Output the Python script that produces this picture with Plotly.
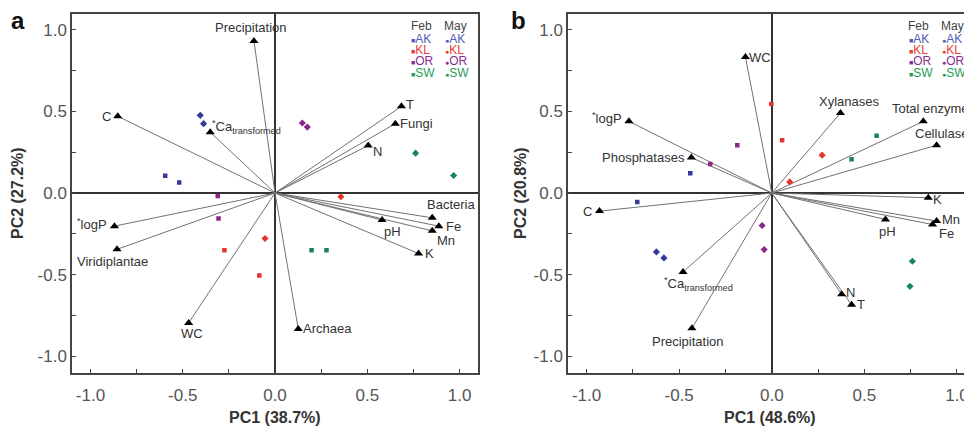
import plotly.graph_objects as go

# ---------------- data ----------------
# Panel a: loadings (vectors)
a_vars = ["Precipitation", "C", "<sup>*</sup>Ca<sub>transformed</sub>", "T", "Fungi", "N",
          "Bacteria", "Fe", "Mn", "pH", "K", "<sup>*</sup>logP", "Viridiplantae", "WC", "Archaea"]
a_vx = [-0.114, -0.852, -0.351, 0.685, 0.652, 0.505, 0.852, 0.888, 0.852, 0.580, 0.778, -0.870, -0.856, -0.468, 0.126]
a_vy = [0.931, 0.470, 0.373, 0.531, 0.425, 0.291, -0.152, -0.203, -0.232, -0.166, -0.371, -0.203, -0.345, -0.796, -0.833]

# Panel a: sample scores
a_sites = ["AK", "AK", "AK", "AK", "OR", "OR", "OR", "OR", "SW", "SW", "SW", "SW", "KL", "KL", "KL", "KL"]
a_month = ["May", "May", "Feb", "Feb", "May", "May", "Feb", "Feb", "May", "May", "Feb", "Feb", "May", "May", "Feb", "Feb"]
a_px = [-0.405, -0.387, -0.595, -0.519, 0.148, 0.175, -0.310, -0.306, 0.762, 0.968, 0.198, 0.279, 0.357, -0.054, -0.274, -0.085]
a_py = [0.476, 0.425, 0.105, 0.064, 0.429, 0.404, -0.018, -0.156, 0.244, 0.107, -0.351, -0.351, -0.023, -0.279, -0.351, -0.505]

# Panel b: loadings
b_vars = ["WC", "<sup>*</sup>logP", "Phosphatases", "Xylanases", "Total enzymes", "Cellulases",
          "K", "Mn", "Fe", "pH", "N", "T", "C", "<sup>*</sup>Ca<sub>transformed</sub>", "Precipitation"]
b_vx = [-0.142, -0.771, -0.434, 0.371, 0.818, 0.890, 0.845, 0.890, 0.868, 0.614, 0.377, 0.431, -0.930, -0.479, -0.431]
b_vy = [0.833, 0.439, 0.217, 0.490, 0.439, 0.293, -0.029, -0.172, -0.193, -0.162, -0.620, -0.685, -0.111, -0.484, -0.829]

# Panel b: sample scores
b_sites = ["KL", "KL", "KL", "KL", "SW", "SW", "SW", "SW", "OR", "OR", "OR", "OR", "AK", "AK", "AK", "AK"]
b_month = ["Feb", "Feb", "May", "May", "Feb", "Feb", "May", "May", "Feb", "Feb", "May", "May", "Feb", "Feb", "May", "May"]
b_px = [-0.002, 0.056, 0.272, 0.097, 0.566, 0.431, 0.759, 0.746, -0.186, -0.332, -0.052, -0.041, -0.440, -0.726, -0.623, -0.582]
b_py = [0.546, 0.324, 0.232, 0.068, 0.351, 0.207, -0.418, -0.572, 0.293, 0.177, -0.199, -0.347, 0.121, -0.055, -0.361, -0.398]

site_order = ["AK", "KL", "OR", "SW"]
months = ["Feb", "May"]
tick_vals = [-1.0, -0.5, 0.0, 0.5, 1.0]
tick_text = ["-1.0", "-0.5", "0.0", "0.5", "1.0"]
minor_vals = [-0.75, -0.25, 0.25, 0.75]
axis_titles = {"a": ("PC1 (38.7%)", "PC2 (27.2%)"), "b": ("PC1 (48.6%)", "PC2 (20.8%)")}

# ---------------- styles ----------------
W, H = 964, 427
FONT = "Liberation Sans, Arial, sans-serif"
mark_col = {"AK": "#37399a", "KL": "#e8332c", "OR": "#87288a", "SW": "#17845a"}
text_col = {"AK": "#4d5cb8", "KL": "#ea3a36", "OR": "#8a2d8c", "SW": "#1f9c58"}
sym = {"Feb": "square", "May": "diamond"}
leg_sym = {"Feb": "■", "May": "●"}

# label placement: (xanchor, xshift, yanchor, yshift)
a_place = [("center", -3, "bottom", 4), ("right", -5, "middle", 0), ("left", 0, "middle", 5),
           ("left", 3, "middle", 2), ("left", 3, "middle", 0), ("left", 3, "middle", -6),
           ("center", 19, "middle", 13), ("left", 5, "middle", 0), ("left", 3, "middle", -10),
           ("left", 0, "middle", -11), ("left", 4, "middle", 0), ("right", -5, "middle", 2),
           ("center", -5, "middle", -12), ("center", 3, "middle", -11), ("left", 3, "middle", 0)]
b_place = [("left", 2, "middle", 0), ("right", -5, "middle", 3), ("right", -4, "middle", 0),
           ("center", 9, "middle", 12), ("left", -33, "middle", 13), ("left", -24, "middle", 12),
           ("left", 3, "middle", -2), ("left", 3, "middle", 2), ("left", 4, "middle", -9),
           ("center", 2, "middle", -12), ("left", 2, "middle", 2), ("left", 3, "middle", 0),
           ("right", -5, "middle", 0), ("left", -21, "middle", -12), ("center", -4, "middle", -13)]

fig = go.Figure()
annotations = []


def add_panel(xa, ya, vars_, vx, vy, place, sites, month, px, py):
    lx, ly = [], []
    for x, y in zip(vx, vy):
        lx += [0, x, None]
        ly += [0, y, None]
    fig.add_trace(go.Scatter(x=lx, y=ly, xaxis=xa, yaxis=ya, mode="lines",
                             line=dict(color="#727272", width=1), hoverinfo="skip", showlegend=False))
    fig.add_trace(go.Scatter(x=vx, y=vy, xaxis=xa, yaxis=ya, mode="markers",
                             marker=dict(symbol="triangle-up", size=8, color="black"),
                             showlegend=False, cliponaxis=False))
    for s in site_order:
        for m in months:
            xs = [px[i] for i in range(len(px)) if sites[i] == s and month[i] == m]
            ys = [py[i] for i in range(len(py)) if sites[i] == s and month[i] == m]
            fig.add_trace(go.Scatter(x=xs, y=ys, xaxis=xa, yaxis=ya, mode="markers",
                                     marker=dict(symbol=sym[m], size=4.5 if m == "Feb" else 5.5,
                                                 color=mark_col[s]),
                                     showlegend=False))
    for name, x, y, (xan, xs_, yan, ys_) in zip(vars_, vx, vy, place):
        annotations.append(dict(x=x, y=y, xref=xa, yref=ya, text=name, showarrow=False,
                                xanchor=xan, yanchor=yan, xshift=xs_, yshift=ys_,
                                font=dict(family=FONT, size=13, color="#333333")))
    # legend block
    for m, lxp in zip(months, [0.725, 0.905]):
        annotations.append(dict(x=lxp, y=1.022, xref=xa, yref=ya, text=m, showarrow=False,
                                xanchor="left", yanchor="middle",
                                font=dict(family=FONT, size=12, color="#444444")))
        for k, s in enumerate(site_order):
            yy = 0.945 - k * 0.069
            annotations.append(dict(x=lxp + 0.003, y=yy, xref=xa, yref=ya, showarrow=False,
                                    text="<span style='font-size:7px'>%s</span>%s" % (leg_sym[m], s),
                                    xanchor="left", yanchor="middle",
                                    font=dict(family=FONT, size=12, color=text_col[s])))


add_panel("x", "y", a_vars, a_vx, a_vy, a_place, a_sites, a_month, a_px, a_py)
add_panel("x2", "y2", b_vars, b_vx, b_vy, b_place, b_sites, b_month, b_px, b_py)

ydom = [(H - 372.5) / H, (H - 13.5) / H]
common = dict(tickmode="array", tickvals=tick_vals, ticktext=tick_text, ticks="inside", ticklen=4,
              tickcolor="#444", tickfont=dict(family=FONT, size=17, color="#555555"),
              minor=dict(tickmode="array", tickvals=minor_vals, ticks="inside",
                         ticklen=4, tickcolor="#444", showgrid=False),
              ticklabeloverflow="allow",
              showgrid=False, zeroline=True, zerolinecolor="#333333", zerolinewidth=1.5,
              showline=True, linecolor="#444444", linewidth=1.5, automargin=False, fixedrange=True)

fig.update_layout(
    width=W, height=H, margin=dict(l=0, r=0, t=0, b=0),
    paper_bgcolor="white", plot_bgcolor="white", showlegend=False,
    xaxis=dict(domain=[72 / W, 478 / W], range=[-1.1, 1.1], anchor="y", mirror=True,
               ticklabelstandoff=6, **common),
    yaxis=dict(domain=ydom, range=[-1.1, 1.1], anchor="x", mirror=True, **common),
    xaxis2=dict(domain=[568 / W, 1.0], range=[-1.1, (W - 772) / 185], anchor="y2", mirror=True,
                ticklabelstandoff=6, **common),
    yaxis2=dict(domain=ydom, range=[-1.1, 1.1], anchor="x2", mirror=False, **common),
)

# axis titles and panel letters
for px_c, ttl, pyx, letter, lx in [(275, axis_titles["a"], 18, "a", 18), (770, axis_titles["b"], 521, "b", 518)]:
    annotations.append(dict(x=px_c / W, y=(H - 417) / H, xref="paper", yref="paper", text="<b>%s</b>" % ttl[0],
                            showarrow=False, xanchor="center", yanchor="middle",
                            font=dict(family=FONT, size=16, color="#333333")))
    annotations.append(dict(x=pyx / W, y=(H - 193) / H, xref="paper", yref="paper", text="<b>%s</b>" % ttl[1],
                            showarrow=False, xanchor="center", yanchor="middle", textangle=-90,
                            font=dict(family=FONT, size=16, color="#333333")))
    annotations.append(dict(x=lx / W, y=(H - 20) / H, xref="paper", yref="paper", text="<b>%s</b>" % letter,
                            showarrow=False, xanchor="center", yanchor="middle",
                            font=dict(family=FONT, size=24, color="#111111")))

fig.update_layout(annotations=annotations)
fig.write_html("out.html", config={"displayModeBar": False},
               post_script="document.body.style.margin='0px';document.body.style.overflow='hidden';")
